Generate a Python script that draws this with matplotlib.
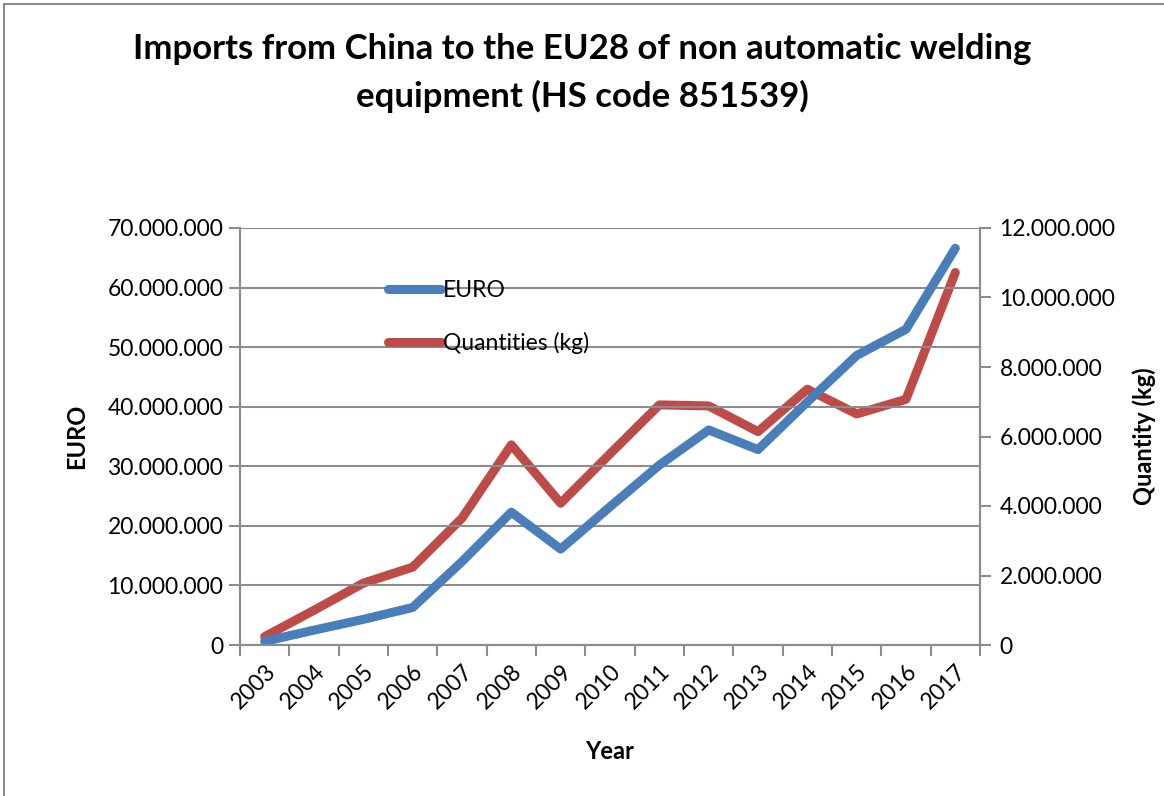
import matplotlib.pyplot as plt
from matplotlib.lines import Line2D
from matplotlib.ticker import FuncFormatter, MultipleLocator

years = [str(y) for y in range(2003, 2018)]
euro = [0.6e6, 2.5e6, 4.3e6, 6.3e6, 14.0e6, 22.3e6, 16.1e6, 23.2e6,
        30.2e6, 36.1e6, 32.8e6, 40.8e6, 48.6e6, 53.0e6, 66.6e6]
qty_kg = [0.24e6, 1.0e6, 1.78e6, 2.24e6, 3.65e6, 5.76e6, 4.08e6, 5.5e6,
          6.91e6, 6.88e6, 6.14e6, 7.36e6, 6.65e6, 7.07e6, 10.72e6]

plt.rcParams['font.family'] = ['Lato', 'DejaVu Sans']
BLUE = '#4a7ebb'
RED = '#be4b48'
GRID = '#8c8c8c'
FS = 16.5


def dotted(v, pos):
    return f'{int(round(v)):,}'.replace(',', '.')


fig = plt.figure(figsize=(11.64, 7.96), dpi=100)
ax = fig.add_axes([240 / 1164, 1 - 645 / 796, 740 / 1164, 417 / 796])
ax2 = ax.twinx()

x = list(range(len(years)))
ln1, = ax.plot(x, euro, color=BLUE, lw=6.5, solid_capstyle='round',
               solid_joinstyle='round', label='EURO')
ln2, = ax2.plot(x, qty_kg, color=RED, lw=6.5, solid_capstyle='round',
                solid_joinstyle='round', label='Quantities (kg)')
ax.set_zorder(ax2.get_zorder() + 1)
ax.patch.set_visible(False)

ax.set_xlim(-0.5, len(years) - 0.5)
ax.set_ylim(0, 70e6)
ax2.set_ylim(0, 12e6)
ax.yaxis.set_major_locator(MultipleLocator(10e6))
ax2.yaxis.set_major_locator(MultipleLocator(2e6))
ax.yaxis.set_major_formatter(FuncFormatter(dotted))
ax2.yaxis.set_major_formatter(FuncFormatter(dotted))

ax.set_xticks([i - 0.5 for i in range(len(years) + 1)])
ax.set_xticklabels([])
ax.set_xticks(x, minor=True)
ax.set_xticklabels(years, minor=True, rotation=45, ha='right', va='top',
                   rotation_mode='anchor', fontsize=FS)
ax.tick_params(axis='x', which='minor', length=0, pad=11)
ax.tick_params(axis='x', which='major', length=8, width=1.5, color=GRID)
ax.tick_params(axis='y', length=8, width=1.5, color=GRID, labelsize=FS, pad=4)
ax2.tick_params(axis='y', length=8, width=1.5, color=GRID, labelsize=FS, pad=6)

ax.grid(axis='y', color=GRID, lw=1.5)
ax.set_axisbelow(True)
for a in (ax, ax2):
    a.spines['top'].set_visible(False)
    for side in ('left', 'right', 'bottom'):
        a.spines[side].set_color(GRID)
        a.spines[side].set_linewidth(1.5)

ax.set_ylabel('EURO', fontsize=17, fontweight='bold', labelpad=14)
ax2.set_ylabel('Quantity (kg)', fontsize=17, fontweight='bold', labelpad=12)
ax.set_xlabel('Year', fontsize=17, fontweight='bold', labelpad=20)

ax.legend(handles=[ln1, ln2], loc='upper left', bbox_to_anchor=(0.172, 0.925),
          frameon=False, fontsize=FS, handlelength=2.3, handletextpad=0.1,
          labelspacing=1.35)

fig.text(0.5, 0.958, 'Imports from China to the EU28 of non automatic welding\n'
         'equipment (HS code 851539)', ha='center', va='top', fontsize=25,
         fontweight='bold', linespacing=1.55)

# outer chart frame
fig.add_artist(Line2D([4 / 1164, 4 / 1164], [0, 1 - 4 / 796],
                      transform=fig.transFigure, color='#8c8c8c', lw=1.5))
fig.add_artist(Line2D([4 / 1164, 1], [1 - 4 / 796, 1 - 4 / 796],
                      transform=fig.transFigure, color='#8c8c8c', lw=1.5))

fig.savefig('out.png', dpi=100)
